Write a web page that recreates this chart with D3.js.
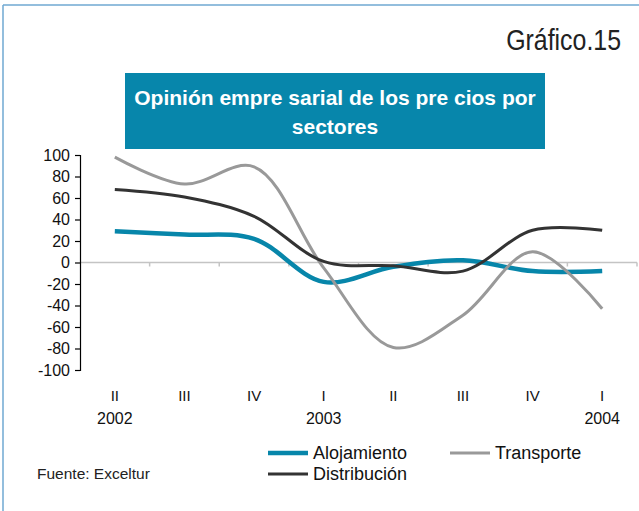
<!DOCTYPE html>
<html>
<head>
<meta charset="utf-8">
<script src="https://d3js.org/d3.v7.min.js"></script>
<style>
  body { margin: 0; background: #fff; }
  svg { display: block; font-family: "Liberation Sans", Arial, sans-serif; }
</style>
</head>
<body>
<svg id="chart" width="639" height="511"></svg>
<script>
// quarters from 2002-II to 2004-I
const quarters = ["II", "III", "IV", "I", "II", "III", "IV", "I"];
const years = [{i: 0, label: "2002"}, {i: 3, label: "2003"}, {i: 7, label: "2004"}];
const alojamiento = [29, 26, 22, -18, -4, 2, -8, -8];
const transporte = [98, 73, 89, -5, -79, -49, 10, -43];
const distribucion = [68, 61, 43, 1, -3, -8, 30, 30];
const yTicks = [100, 80, 60, 40, 20, 0, -20, -40, -60, -80, -100];

const series = [
  {name: "Alojamiento", values: alojamiento, color: "#0786aa", width: 4.5},
  {name: "Transporte", values: transporte, color: "#999999", width: 3},
  {name: "Distribución", values: distribucion, color: "#333333", width: 3}
];

const svg = d3.select("#chart");

// frame
svg.append("line").attr("x1", 3).attr("y1", 5).attr("x2", 639).attr("y2", 5)
  .attr("stroke", "#6fa8d2").attr("stroke-width", 1.5);
svg.append("line").attr("x1", 3).attr("y1", 5).attr("x2", 3).attr("y2", 511)
  .attr("stroke", "#6fa8d2").attr("stroke-width", 1.5);

// condensed heading, like the original
svg.append("text").attr("transform", "translate(621,50) scale(0.83,1)").attr("text-anchor", "end")
  .style("font-size", "30px").style("fill", "#222").text("Gráfico.15");

// title box
svg.append("rect").attr("x", 125).attr("y", 73).attr("width", 420).attr("height", 76)
  .attr("fill", "#0786ab");
svg.append("text").attr("x", 335).attr("y", 105).attr("text-anchor", "middle")
  .style("font-size", "21px").style("font-weight", "bold").style("fill", "#fff")
  .text("Opinión empre sarial de los pre cios por");
svg.append("text").attr("x", 335).attr("y", 134).attr("text-anchor", "middle")
  .style("font-size", "21px").style("font-weight", "bold").style("fill", "#fff")
  .text("sectores");

const x = d3.scaleBand().domain(d3.range(quarters.length)).range([80, 637]);
const y = d3.scaleLinear().domain([-100, 100]).range([370, 155]);
const cx = i => x(i) + x.bandwidth() / 2;

// zero line with category ticks
const x0 = svg.append("g").attr("transform", `translate(0,${y(0)})`);
x0.append("line").attr("x1", 80).attr("x2", 637).attr("stroke", "#c4c4c4").attr("stroke-width", 1.5);
x0.selectAll("line.t").data(d3.range(1, quarters.length + 1)).enter().append("line")
  .attr("class", "t")
  .attr("x1", d => d < quarters.length ? x(d) : 637).attr("x2", d => d < quarters.length ? x(d) : 637)
  .attr("y1", 0).attr("y2", 4).attr("stroke", "#c4c4c4").attr("stroke-width", 1.5);

// y axis
const yAxis = svg.append("g").attr("transform", "translate(80,0)")
  .call(d3.axisLeft(y).tickValues(yTicks).tickSize(5).tickPadding(5).tickFormat(d => String(d)));
yAxis.select(".domain").attr("stroke", "#000").attr("stroke-width", 1.2);
yAxis.selectAll(".tick line").attr("stroke", "#000").attr("stroke-width", 1.2);
yAxis.selectAll(".tick text").style("font-size", "16px").style("font-family", "Liberation Sans, Arial, sans-serif").attr("fill", "#111");

// x labels
svg.selectAll("text.q").data(quarters).enter().append("text")
  .attr("class", "q").attr("x", (d, i) => cx(i)).attr("y", 401)
  .attr("text-anchor", "middle").style("font-size", "15px").style("fill", "#111")
  .text(d => d);
svg.selectAll("text.yr").data(years).enter().append("text")
  .attr("class", "yr").attr("x", d => cx(d.i)).attr("y", 424)
  .attr("text-anchor", "middle").style("font-size", "16px").style("fill", "#111")
  .text(d => d.label);

// lines
const line = d3.line().x((d, i) => cx(i)).y(d => y(d)).curve(d3.curveCatmullRom.alpha(0.5));
svg.selectAll("path.s").data(series).enter().append("path")
  .attr("class", "s").attr("d", d => line(d.values))
  .attr("fill", "none").attr("stroke", d => d.color).attr("stroke-width", d => d.width)
  .attr("stroke-linejoin", "round");

// legend
const legendPos = [{x: 268, y: 453}, {x: 450, y: 453}, {x: 268, y: 474}];
const lg = svg.selectAll("g.lg").data(series).enter().append("g")
  .attr("class", "lg").attr("transform", (d, i) => `translate(${legendPos[i].x},${legendPos[i].y})`);
lg.append("line").attr("x1", 0).attr("x2", 40).attr("stroke", d => d.color).attr("stroke-width", d => d.width);
lg.append("text").attr("x", 45).attr("dy", "0.35em").style("font-size", "18px").style("fill", "#111")
  .text(d => d.name);

svg.append("text").attr("x", 37).attr("y", 479).style("font-size", "15.5px").style("fill", "#222")
  .text("Fuente: Exceltur");
</script>
</body>
</html>
